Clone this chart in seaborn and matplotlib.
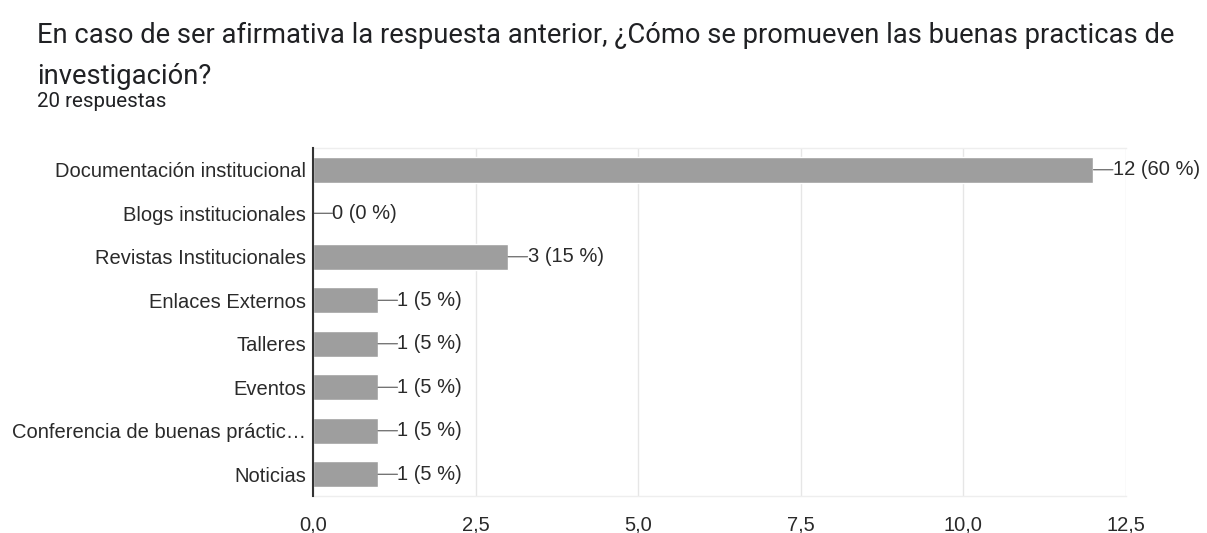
import matplotlib
matplotlib.use("Agg")
import matplotlib.pyplot as plt
import seaborn as sns
import pandas as pd

categories = ["Documentación institucional", "Blogs institucionales", "Revistas Institucionales",
              "Enlaces Externos", "Talleres", "Eventos", "Conferencia de buenas práctic…", "Noticias"]
counts = [12, 0, 3, 1, 1, 1, 1, 1]
percents = [60, 0, 15, 5, 5, 5, 5, 5]
xticks = [0, 2.5, 5, 7.5, 10, 12.5]
xtick_labels = ["0,0", "2,5", "5,0", "7,5", "10,0", "12,5"]

df = pd.DataFrame({"cat": categories, "n": counts})

sns.set_theme(style="white")
plt.rcParams['font.family'] = ['Liberation Sans', 'DejaVu Sans']

fig = plt.figure(figsize=(12.07, 5.33), dpi=100)
ax = fig.add_axes([0.2593, 0.0694, 0.9329 - 0.2593, 0.7223 - 0.0694])

sns.barplot(data=df, x="n", y="cat", orient="h", color="#9e9e9e", saturation=1,
            width=0.6, ax=ax, zorder=3)

ax.set_xlim(0, 12.5)
ax.set_ylim(7.5, -0.5)
ax.set_xticks(xticks)
ax.set_xticklabels(xtick_labels)
ax.grid(axis="x", color="#e6e6e6", linewidth=1, zorder=0)
ax.set_xlabel("")
ax.set_ylabel("")
for s in ["top", "bottom"]:
    ax.spines[s].set_visible(True)
    ax.spines[s].set_color("#eeeeee")
    ax.spines[s].set_linewidth(1)
ax.spines["right"].set_visible(False)
ax.spines["left"].set_color("#333333")
ax.spines["left"].set_linewidth(1.5)
ax.spines["left"].set_zorder(5)
ax.tick_params(axis="both", length=0, labelsize=14.5, colors="#2a2a2a")
ax.tick_params(axis="x", pad=14)
ax.tick_params(axis="y", pad=5)

for i, (c, p) in enumerate(zip(counts, percents)):
    ax.annotate("", xy=(c, i), xytext=(14, 0), textcoords="offset points",
                xycoords="data",
                arrowprops=dict(arrowstyle="-", color="#555555", lw=0.8, shrinkA=0, shrinkB=0))
    ax.annotate(f"{c} ({p} %)", xy=(c, i), xytext=(14, 0), textcoords="offset points",
                va="center", ha="left", fontsize=14.5, color="#2a2a2a", annotation_clip=False)

fig.text(37 / 1207, 1 - 43 / 533, "En caso de ser afirmativa la respuesta anterior, ¿Cómo se promueven las buenas practicas de",
         fontsize=19.7, family=["Roboto", "DejaVu Sans"], color="#202124", va="baseline")
fig.text(37 / 1207, 1 - 84 / 533, "investigación?",
         fontsize=19.7, family=["Roboto", "DejaVu Sans"], color="#202124", va="baseline")
fig.text(37 / 1207, 1 - 107 / 533, "20 respuestas",
         fontsize=14.8, family=["Roboto", "DejaVu Sans"], color="#202124", va="baseline")

fig.savefig("out.png", dpi=100, facecolor="white")
